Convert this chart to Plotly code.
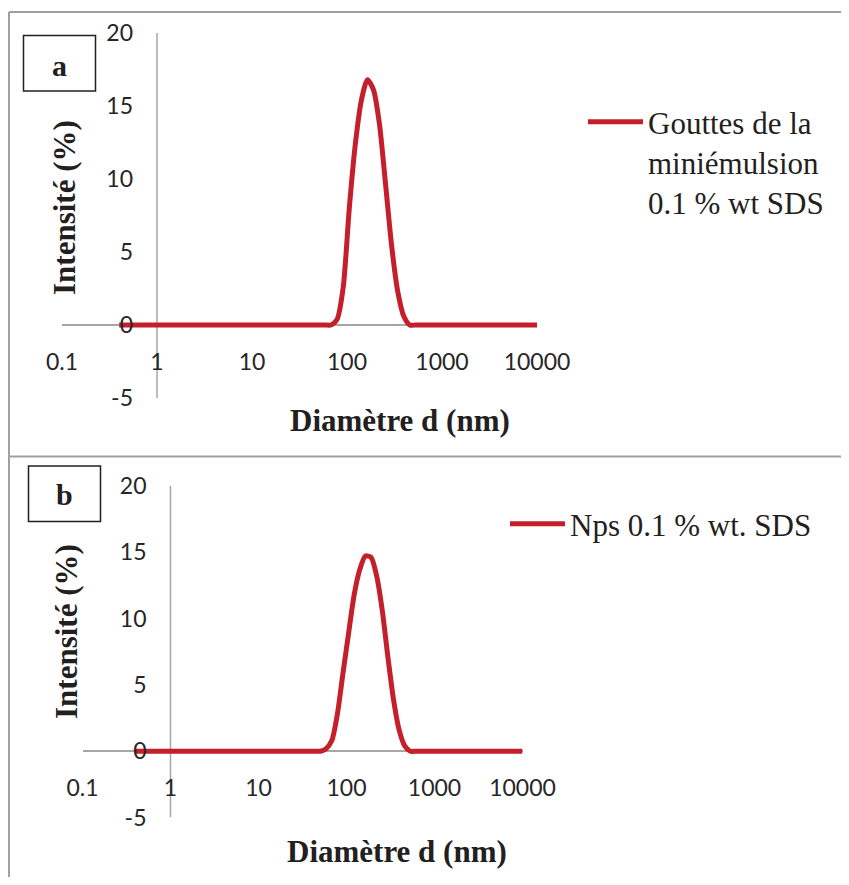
import plotly.graph_objects as go

# ---------------- data ----------------
diam_nm = [0.4, 1, 5, 10, 20, 32.67, 37.84, 43.82, 50.75, 58.77, 68.06, 78.82, 91.28,
           105.7, 122.4, 141.8, 164.2, 190.1, 220.2, 255.0, 295.3, 342.0, 396.1,
           458.7, 531.2, 615.1, 712.4, 1000, 3000, 10000]
intensity_a = [0, 0, 0, 0, 0, 0, 0, 0, 0, 0, 0, 0.4, 2.6,
               8.0, 12.4, 15.4, 16.8, 16.1, 13.7, 9.6, 5.4, 2.3, 0.6,
               0, 0, 0, 0, 0, 0, 0]
intensity_b = [0, 0, 0, 0, 0, 0, 0, 0, 0, 0.2, 0.8, 2.8, 5.9,
               8.9, 11.8, 13.7, 14.7, 14.6, 13.2, 10.6, 7.1, 3.9, 1.6,
               0.4, 0, 0, 0, 0, 0, 0]

x_tickvals = [0.1, 1, 10, 100, 1000, 10000]
x_ticktext = ["0.1", "1", "10", "100", "1000", "10000"]
y_tickvals = [-5, 0, 5, 10, 15, 20]
y_ticktext = ["-5", "0", "5", "10", "15", "20"]

label_a = "Gouttes de la<br>miniémulsion<br>0.1 % wt SDS"
label_b = "Nps 0.1 % wt. SDS"
panel_tags = ["a", "b"]
x_title = "Diamètre d (nm)"
y_title = "Intensité (%)"

# ---------------- style ----------------
OFF = 8  # page body margin of the html page
W, H = 849 - OFF, 885 - 2 * OFF   # figure size that fits the window without scrolling
RED = "#C41F2B"
AXIS_GRAY = "#A6A6A6"
FRAME_GRAY = "#A0A0A0"
TXT = "#231F20"
TICK_FONT = dict(family="Lato", size=23, color="#262626")
SERIF = "Liberation Serif"

XR = [-1, 4]
YR = [-5, 20]


def px(x):
    return (x - OFF) / W


def py(y):
    return 1 - (y - OFF) / H


# pixel boxes (page coordinates) of each plot area (x: 0.1..10000, y: 20..-5)
panels = [
    dict(xd=(62, 537), yd=(33, 398), title_x=400, title_y=421, ytitle_x=64, ytitle_y=208,
         box=(23.5, 35.5, 95.5, 91), tag_xy=(59.5, 66), leg_xy=(583, 95)),
    dict(xd=(82.5, 522.5), yd=(485.7, 817.6), title_x=397, title_y=851, ytitle_x=66, ytitle_y=632,
         box=(28.5, 466, 100.5, 521.5), tag_xy=(64.5, 494), leg_xy=(505, 497)),
]

fig = go.Figure()
layout = dict(
    width=W, height=H,
    margin=dict(l=0, r=0, t=0, b=0, pad=0, autoexpand=False),
    paper_bgcolor="white", plot_bgcolor="white",
    showlegend=True,
    shapes=[], annotations=[],
)

series = [intensity_a, intensity_b]
labels = [label_a, label_b]

for i, p in enumerate(panels):
    sfx = "" if i == 0 else str(i + 1)
    xa, ya = "x" + sfx, "y" + sfx
    leg = "legend" + sfx
    x0, x1 = px(p["xd"][0]), px(p["xd"][1])
    yb, yt = py(p["yd"][1]), py(p["yd"][0])
    # where the crossing axes sit (x=1, y=0)
    xcross = x0 + (0 - XR[0]) / (XR[1] - XR[0]) * (x1 - x0)
    ycross = yb + (0 - YR[0]) / (YR[1] - YR[0]) * (yt - yb)

    fig.add_trace(go.Scatter(
        x=diam_nm, y=series[i], mode="lines",
        line=dict(color=RED, width=5, shape="spline", smoothing=0.7),
        name=labels[i], xaxis=xa, yaxis=ya, legend=leg,
    ))

    layout["xaxis" + sfx] = dict(
        type="log", range=XR, domain=[x0, x1], anchor="free", position=ycross,
        showline=False, showgrid=False, zeroline=False, ticks="",
        tickvals=x_tickvals, ticktext=x_ticktext, tickfont=TICK_FONT,
        ticklabelstandoff=21,
    )
    layout["yaxis" + sfx] = dict(
        range=YR, domain=[yb, yt], anchor="free", position=xcross,
        showline=False, showgrid=False, zeroline=True, zerolinecolor=AXIS_GRAY,
        zerolinewidth=1.5, ticks="",
        tickvals=y_tickvals, ticktext=y_ticktext, tickfont=TICK_FONT,
        ticklabelstandoff=24,
    )
    # vertical axis line at x = 1
    layout["shapes"].append(dict(
        type="line", xref=xa, yref=ya, x0=1, x1=1, y0=YR[0], y1=YR[1],
        line=dict(color=AXIS_GRAY, width=1.5), layer="below",
    ))
    layout[leg] = dict(
        x=px(p["leg_xy"][0]), y=py(p["leg_xy"][1]), xanchor="left", yanchor="top",
        font=dict(family=SERIF, size=31, color=TXT), bgcolor="rgba(0,0,0,0)",
        valign="top", itemwidth=55, borderwidth=0,
    )
    # axis titles
    layout["annotations"].append(dict(
        text="<b>" + x_title + "</b>", xref="paper", yref="paper",
        x=px(p["title_x"]), y=py(p["title_y"]), xanchor="center", yanchor="middle",
        showarrow=False, font=dict(family=SERIF, size=31, color=TXT),
    ))
    layout["annotations"].append(dict(
        text="<b>" + y_title + "</b>", xref="paper", yref="paper", textangle=-90,
        x=px(p["ytitle_x"]), y=py(p["ytitle_y"]), xanchor="center", yanchor="middle",
        showarrow=False, font=dict(family=SERIF, size=31, color=TXT),
    ))
    # panel tag box
    bx0, by0, bx1, by1 = p["box"]
    layout["shapes"].append(dict(
        type="rect", xref="paper", yref="paper",
        x0=px(bx0), x1=px(bx1), y0=py(by1), y1=py(by0),
        line=dict(color=TXT, width=1.5), fillcolor="rgba(0,0,0,0)",
    ))
    layout["annotations"].append(dict(
        text="<b>" + panel_tags[i] + "</b>", xref="paper", yref="paper",
        x=px(p["tag_xy"][0]), y=py(p["tag_xy"][1]), xanchor="center", yanchor="middle",
        showarrow=False, font=dict(family=SERIF, size=30, color=TXT),
    ))

# outer frame lines of the figure
for (a0, b0, a1, b1) in [(9, 12, W + OFF, 12), (9, 12, 9, H + OFF), (9, 456.5, W + OFF, 456.5)]:
    layout["shapes"].append(dict(
        type="line", xref="paper", yref="paper",
        x0=px(a0), x1=px(a1), y0=py(b0), y1=py(b1),
        line=dict(color=FRAME_GRAY, width=2),
    ))

fig.update_layout(**layout)
fig.write_html("out.html")
